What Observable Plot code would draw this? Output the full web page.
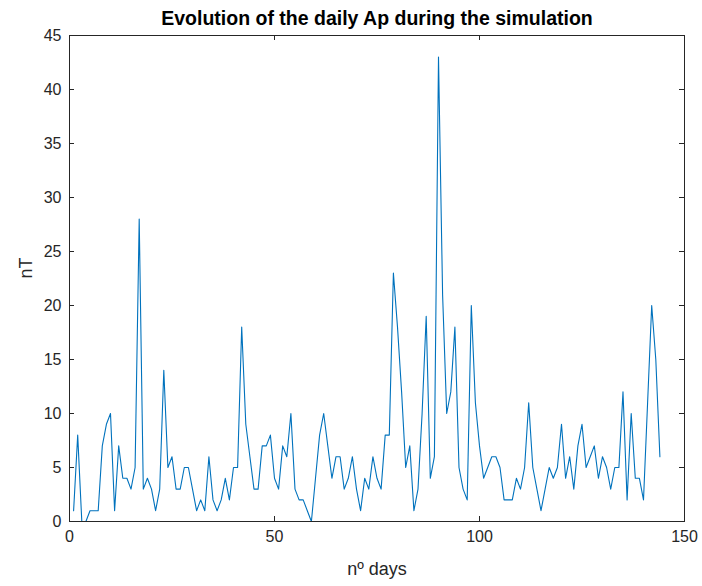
<!DOCTYPE html>
<html>
<head>
<meta charset="utf-8">
<script src="https://cdn.jsdelivr.net/npm/d3@7"></script>
<script src="https://cdn.jsdelivr.net/npm/@observablehq/plot@0.6"></script>
<style>
  html, body { margin: 0; padding: 0; background: #ffffff; }
  #chart { width: 702px; height: 586px; }
</style>
</head>
<body>
<div id="chart"></div>
<script>
const titleText = "Evolution of the daily Ap during the simulation";
const xLabel = "nº days";
const yLabel = "nT";
const xTicks = [0, 50, 100, 150];
const yTicks = [0, 5, 10, 15, 20, 25, 30, 35, 40, 45];

const apValues = [
  1, 8, 0, 0, 1, 1, 1, 7, 9, 10,
  1, 7, 4, 4, 3, 5, 28, 3, 4, 3,
  1, 3, 14, 5, 6, 3, 3, 5, 5, 3,
  1, 2, 1, 6, 2, 1, 2, 4, 2, 5,
  5, 18, 9, 6, 3, 3, 7, 7, 8, 4,
  3, 7, 6, 10, 3, 2, 2, 1, 0, 4,
  8, 10, 7, 4, 6, 6, 3, 4, 6, 3,
  1, 4, 3, 6, 4, 3, 8, 8, 23, 18,
  12, 5, 7, 1, 3, 10, 19, 4, 6, 43,
  21, 10, 12, 18, 5, 3, 2, 20, 11, 7,
  4, 5, 6, 6, 5, 2, 2, 2, 4, 3,
  5, 11, 5, 3, 1, 3, 5, 4, 5, 9,
  4, 6, 3, 7, 9, 5, 6, 7, 4, 6,
  5, 3, 5, 5, 12, 2, 10, 4, 4, 2,
  11, 20, 15, 6
];
const days = apValues.map((_, i) => i + 1);
const data = days.map((d, i) => ({day: d, ap: apValues[i]}));

const W = 702, H = 586;
const mL = 69, mR = 18, mT = 35, mB = 65;
const innerW = W - mL - mR, innerH = H - mT - mB;
const tickLen = 5;
const axisColor = "#262626";

const chart = Plot.plot({
  width: W,
  height: H,
  marginLeft: mL,
  marginRight: mR,
  marginTop: mT,
  marginBottom: mB,
  style: {fontFamily: "'Liberation Sans', Arial, sans-serif", fontSize: "16px", color: axisColor, background: "#ffffff"},
  x: {domain: [0, 150], ticks: xTicks},
  y: {domain: [0, 45], ticks: yTicks},
  marks: [
    Plot.axisX(xTicks, {tickSize: 0, tickPadding: 9, label: null, fontSize: 16}),
    Plot.axisY(yTicks, {tickSize: 0, tickPadding: 8, label: null, fontSize: 16}),
    Plot.tickY(yTicks, {y: d => d, stroke: axisColor, insetRight: innerW - tickLen}),
    Plot.tickY(yTicks, {y: d => d, stroke: axisColor, insetLeft: innerW - tickLen}),
    Plot.tickX(xTicks, {x: d => d, stroke: axisColor, insetTop: innerH - tickLen}),
    Plot.tickX(xTicks, {x: d => d, stroke: axisColor, insetBottom: innerH - tickLen}),
    Plot.lineY(data, {x: "day", y: "ap", stroke: "#0072BD", strokeWidth: 1.1}),
    Plot.frame({stroke: axisColor, strokeWidth: 1}),
    Plot.text([titleText], {frameAnchor: "top", dy: -11, lineAnchor: "bottom", fontWeight: "bold", fontSize: 19.5, fill: "#000000"}),
    Plot.text([xLabel], {frameAnchor: "bottom", dy: 41, lineAnchor: "top", fontSize: 18, fill: axisColor}),
    Plot.text([yLabel], {frameAnchor: "left", dx: -43, rotate: -90, fontSize: 18, fill: axisColor})
  ]
});
document.getElementById("chart").appendChild(chart);
</script>
</body>
</html>
